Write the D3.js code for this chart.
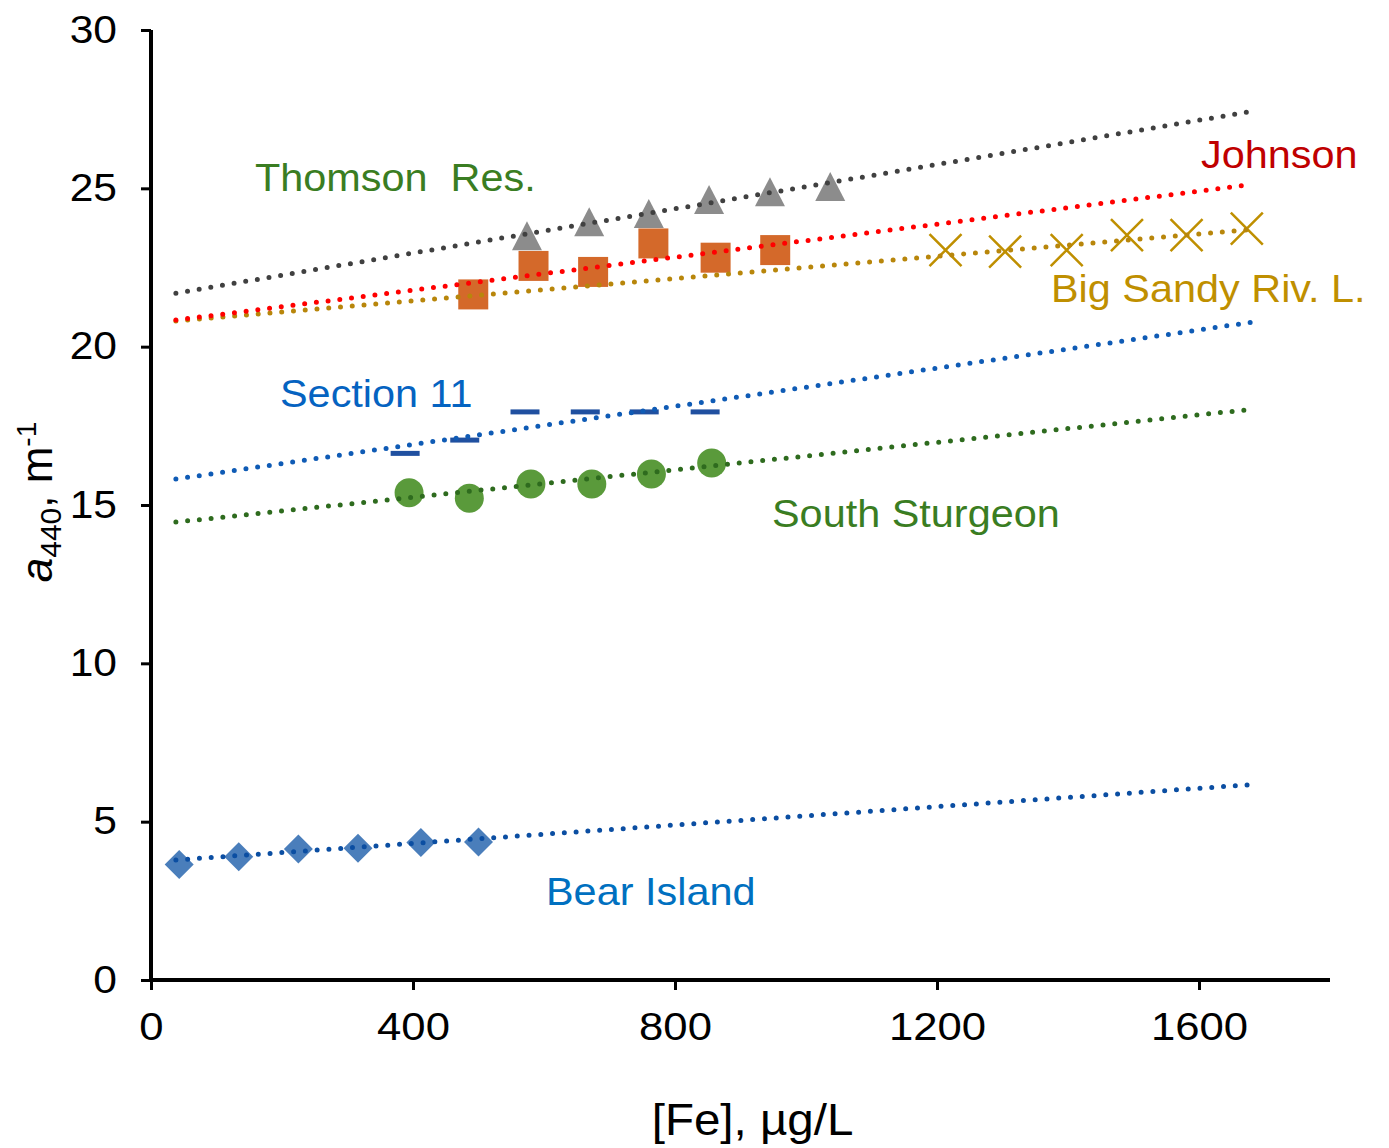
<!DOCTYPE html>
<html>
<head>
<meta charset="utf-8">
<script src="https://cdn.jsdelivr.net/npm/d3@7"></script>
<style>
  body { margin: 0; background: #fff; }
  text { font-family: "Liberation Sans", Arial, sans-serif; }
</style>
</head>
<body>
<div id="chart"></div>
<script>
// values
const thomsonX = [574, 669, 760, 852, 945, 1037]
const thomsonY = [23.49, 23.93, 24.19, 24.63, 24.88, 25.04]
const johnsonX = [492, 584, 675, 767, 862, 953]
const johnsonY = [21.65, 22.55, 22.36, 23.26, 22.81, 23.05]
const bigSandyX = [1213, 1304, 1398, 1490, 1581, 1673]
const bigSandyY = [23.05, 23.0, 23.05, 23.52, 23.52, 23.73]
const section11X = [388, 479, 571, 663, 753, 846]
const section11Y = [16.63, 17.05, 17.94, 17.94, 17.94, 17.94]
const sturgeonX = [394, 486, 580, 673, 764, 856]
const sturgeonY = [15.39, 15.21, 15.66, 15.66, 15.98, 16.33]
const bearX = [43, 134, 225, 316, 412, 500]
const bearY = [3.65, 3.89, 4.14, 4.16, 4.34, 4.36]

// trendline ends (y at trendX[0] and trendX[1])
const trendX = [38, 1680]
const thomsonTrend = [21.69, 27.43]
const johnsonTrend = [20.84, 25.12]
const bigSandyTrend = [20.81, 23.70]
const section11Trend = [15.82, 20.77]
const sturgeonTrend = [14.46, 18.02]
const bearTrend = [3.79, 6.17]

const xTicks = [0, 400, 800, 1200, 1600]
const yTicks = [0, 5, 10, 15, 20, 25, 30]

const W = 1389, H = 1148
const SX = 1.09 // the original text is a little wider than Liberation Sans
const svg = d3.select("#chart").append("svg")
  .attr("width", W)
  .attr("height", H)

const x = d3.scaleLinear().domain([0, 1800]).range([151, 1330])
const y = d3.scaleLinear().domain([0, 30]).range([980, 30])

const zip = (xs, ys) => xs.map((v, i) => ({ x: v, y: ys[i] }))

const series = [
  { name: "Bear Island", data: zip(bearX, bearY), trend: bearTrend, marker: "diamond",
    fill: "#4A7EBB", trendColor: "#0B4EA2",
    label: { x: 546, y: 905, color: "#0070C0" } },
  { name: "South Sturgeon", data: zip(sturgeonX, sturgeonY), trend: sturgeonTrend, marker: "circle",
    fill: "#5A9A3B", trendColor: "#2E6B1E",
    label: { x: 772, y: 527, color: "#3A7D22" } },
  { name: "Section 11", data: zip(section11X, section11Y), trend: section11Trend, marker: "dash",
    fill: "#2050A0", trendColor: "#0F5BB5",
    label: { x: 280, y: 407, color: "#0563C1" } },
  { name: "Big Sandy Riv. L.", data: zip(bigSandyX, bigSandyY), trend: bigSandyTrend, marker: "x",
    fill: "#BF8F00", trendColor: "#B8860B",
    label: { x: 1051, y: 302, color: "#BF8F00" } },
  { name: "Johnson", data: zip(johnsonX, johnsonY), trend: johnsonTrend, marker: "square",
    fill: "#D4692A", trendColor: "#FF0000",
    label: { x: 1201, y: 168, color: "#C00000" } },
  { name: "Thomson  Res.", data: zip(thomsonX, thomsonY), trend: thomsonTrend, marker: "triangle",
    fill: "#8C8C8C", trendColor: "#404040",
    label: { x: 255, y: 191, color: "#3A7D22" } }
]

// axes
const TICK_SX = 1.12
const yAxis = svg.append("g").attr("transform", `translate(${x(0)},0)`)
  .call(d3.axisLeft(y).tickValues(yTicks).tickSize(10).tickPadding(24))
const xAxis = svg.append("g").attr("transform", `translate(0,${y(0)})`)
  .call(d3.axisBottom(x).tickValues(xTicks).tickFormat(d3.format("d")).tickSize(10).tickPadding(22))

;[yAxis, xAxis].forEach(a => {
  a.select(".domain").attr("stroke", "#000").attr("stroke-width", 4)
  a.selectAll(".tick line").attr("stroke", "#000").attr("stroke-width", 3)
  a.selectAll(".tick text")
    .attr("fill", "#000")
    .attr("font-size", 38)
    .attr("font-family", "Liberation Sans, Arial, sans-serif")
    .attr("transform", `scale(${TICK_SX},1)`)
})
yAxis.selectAll(".tick text").attr("x", -34 / TICK_SX)
yAxis.select(".domain").attr("d", `M0,${y(30)}V${y(0)}`)
xAxis.select(".domain").attr("d", `M${x(0) - 2},0H${x(1800)}`)
xAxis.selectAll(".tick text").attr("font-size", 39)

// markers
function markerPath(kind) {
  switch (kind) {
    case "diamond": return "M0,-14.5L14.5,0L0,14.5L-14.5,0Z"
    case "square": return "M-15,-15H15V15H-15Z"
    case "triangle": return "M0,-15L15,14L-15,14Z"
    case "circle": return d3.symbol(d3.symbolCircle, 660)()
    case "dash": return "M-14.5,-2.5H14.5V2.5H-14.5Z"
    case "x": return "M-16,-16L16,16M-16,16L16,-16"
  }
}

const marks = svg.append("g")
series.forEach(s => {
  marks.append("g").selectAll("path")
    .data(s.data)
    .join("path")
    .attr("transform", d => `translate(${x(d.x)},${y(d.y)})`)
    .attr("d", markerPath(s.marker))
    .attr("fill", s.marker === "x" ? "none" : s.fill)
    .attr("stroke", s.marker === "x" ? s.fill : "none")
    .attr("stroke-width", s.marker === "x" ? 2.5 : 0)
})

// dotted trendlines on top of the markers
const line = d3.line().x(d => x(d.x)).y(d => y(d.y))
const trends = svg.append("g")
series.forEach(s => {
  trends.append("path")
    .attr("d", line(zip(trendX, s.trend)))
    .attr("fill", "none")
    .attr("stroke", s.trendColor)
    .attr("stroke-width", 5)
    .attr("stroke-linecap", "round")
    .attr("stroke-dasharray", "0 11.8")
})

// series labels
svg.append("g").selectAll("text")
  .data(series)
  .join("text")
  .attr("transform", d => `translate(${d.label.x},${d.label.y}) scale(${SX},1)`)
  .attr("fill", d => d.label.color)
  .attr("font-size", 38)
  .style("white-space", "pre")
  .text(d => d.name)

// axis titles
svg.append("text")
  .attr("transform", `translate(${(x(0) + x(1800)) / 2 + 12},1135) scale(1.08,1)`)
  .attr("text-anchor", "middle")
  .attr("font-size", 44)
  .attr("fill", "#000")
  .text("[Fe], µg/L")

const yTitle = svg.append("text")
  .attr("transform", "translate(52,502) rotate(-90)")
  .attr("text-anchor", "middle")
  .attr("font-size", 44)
  .attr("fill", "#000")
yTitle.append("tspan").attr("font-style", "italic").text("a")
yTitle.append("tspan").attr("font-size", 30).attr("dy", 9).text("440")
yTitle.append("tspan").attr("dy", -9).text(", m")
yTitle.append("tspan").attr("font-size", 28).attr("dy", -16).text("-1")
</script>
</body>
</html>
